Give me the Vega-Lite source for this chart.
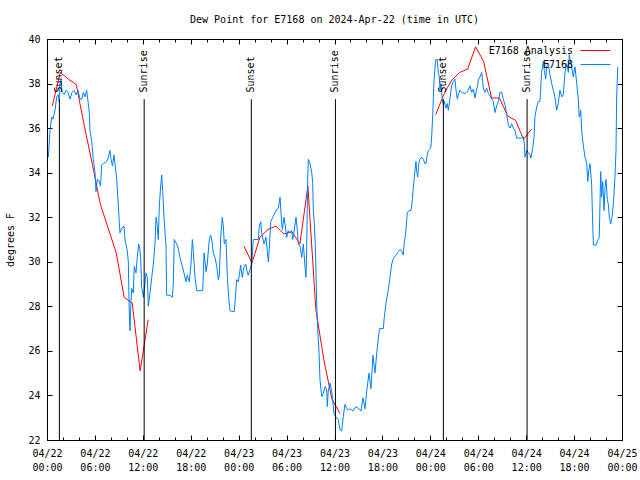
{
"$schema": "https://vega.github.io/schema/vega-lite/v6.json",
"width": 575,
"height": 401,
"autosize": {"type": "none"},
"padding": {"left": 47, "top": 39, "right": 18, "bottom": 40},
"background": "white",
"title": {"text": "Dew Point for E7168 on 2024-Apr-22 (time in UTC)", "font": "DejaVu Sans Mono", "fontSize": 10, "fontWeight": "normal", "color": "black", "offset": 9},
"config": {
  "view": {"stroke": "black", "strokeWidth": 1},
  "axis": {"labelFont": "DejaVu Sans Mono", "labelFontSize": 10, "labelColor": "black", "tickColor": "black", "tickWidth": 1, "titleFont": "DejaVu Sans Mono", "titleFontSize": 10, "titleFontWeight": "normal", "titleColor": "black", "domain": false, "grid": false},
  "legend": {"labelFont": "DejaVu Sans Mono", "labelFontSize": 10, "labelColor": "black", "padding": 0, "rowPadding": 3, "symbolType": "M-3,0L3,0", "symbolSize": 100, "symbolStrokeWidth": 1, "labelAlign": "right", "labelOffset": -28}
},
"datasets": {
  "sun": [
    {"t": "2024-04-22T01:33:00Z", "label": "Sunset"},
    {"t": "2024-04-22T12:10:00Z", "label": "Sunrise"},
    {"t": "2024-04-23T01:35:00Z", "label": "Sunset"},
    {"t": "2024-04-23T12:07:00Z", "label": "Sunrise"},
    {"t": "2024-04-24T01:38:00Z", "label": "Sunset"},
    {"t": "2024-04-24T12:07:00Z", "label": "Sunrise"}
  ],
  "ana": [
    {"t": "2024-04-22T00:40:00Z", "v": 37.0, "g": "a"},
    {"t": "2024-04-22T01:40:00Z", "v": 38.5, "g": "a"},
    {"t": "2024-04-22T02:40:00Z", "v": 38.2, "g": "a"},
    {"t": "2024-04-22T03:40:00Z", "v": 37.95, "g": "a"},
    {"t": "2024-04-22T04:40:00Z", "v": 36.1, "g": "a"},
    {"t": "2024-04-22T05:40:00Z", "v": 34.4, "g": "a"},
    {"t": "2024-04-22T06:40:00Z", "v": 32.6, "g": "a"},
    {"t": "2024-04-22T07:40:00Z", "v": 31.5, "g": "a"},
    {"t": "2024-04-22T08:40:00Z", "v": 30.4, "g": "a"},
    {"t": "2024-04-22T09:40:00Z", "v": 28.4, "g": "a"},
    {"t": "2024-04-22T10:40:00Z", "v": 28.15, "g": "a"},
    {"t": "2024-04-22T11:40:00Z", "v": 25.1, "g": "a"},
    {"t": "2024-04-22T12:40:00Z", "v": 27.4, "g": "a"},
    {"t": "2024-04-23T00:40:00Z", "v": 30.7, "g": "b"},
    {"t": "2024-04-23T01:40:00Z", "v": 29.95, "g": "b"},
    {"t": "2024-04-23T02:40:00Z", "v": 31.1, "g": "b"},
    {"t": "2024-04-23T03:40:00Z", "v": 31.45, "g": "b"},
    {"t": "2024-04-23T04:40:00Z", "v": 31.6, "g": "b"},
    {"t": "2024-04-23T05:40:00Z", "v": 31.25, "g": "b"},
    {"t": "2024-04-23T06:40:00Z", "v": 31.35, "g": "b"},
    {"t": "2024-04-23T07:40:00Z", "v": 30.8, "g": "b"},
    {"t": "2024-04-23T08:40:00Z", "v": 33.4, "g": "b"},
    {"t": "2024-04-23T09:40:00Z", "v": 27.85, "g": "b"},
    {"t": "2024-04-23T10:40:00Z", "v": 25.6, "g": "b"},
    {"t": "2024-04-23T11:40:00Z", "v": 23.85, "g": "b"},
    {"t": "2024-04-23T12:40:00Z", "v": 23.2, "g": "b"},
    {"t": "2024-04-24T00:40:00Z", "v": 36.6, "g": "c"},
    {"t": "2024-04-24T01:40:00Z", "v": 37.5, "g": "c"},
    {"t": "2024-04-24T02:40:00Z", "v": 38.15, "g": "c"},
    {"t": "2024-04-24T03:40:00Z", "v": 38.5, "g": "c"},
    {"t": "2024-04-24T04:40:00Z", "v": 38.65, "g": "c"},
    {"t": "2024-04-24T05:40:00Z", "v": 39.65, "g": "c"},
    {"t": "2024-04-24T06:40:00Z", "v": 39.0, "g": "c"},
    {"t": "2024-04-24T07:40:00Z", "v": 37.35, "g": "c"},
    {"t": "2024-04-24T08:40:00Z", "v": 37.35, "g": "c"},
    {"t": "2024-04-24T09:40:00Z", "v": 36.55, "g": "c"},
    {"t": "2024-04-24T10:40:00Z", "v": 36.35, "g": "c"},
    {"t": "2024-04-24T11:40:00Z", "v": 35.5, "g": "c"},
    {"t": "2024-04-24T12:40:00Z", "v": 35.95, "g": "c"}
  ],
  "obs": [
    {"t": "2024-04-22T00:10:00Z", "v": 34.7}, {"t": "2024-04-22T00:23:00Z", "v": 35.9}, {"t": "2024-04-22T00:35:00Z", "v": 36.5}, {"t": "2024-04-22T00:45:00Z", "v": 36.4},
    {"t": "2024-04-22T01:00:00Z", "v": 36.8}, {"t": "2024-04-22T01:13:00Z", "v": 37.4}, {"t": "2024-04-22T01:25:00Z", "v": 37.5}, {"t": "2024-04-22T01:32:00Z", "v": 37.2},
    {"t": "2024-04-22T01:38:00Z", "v": 38.0}, {"t": "2024-04-22T01:45:00Z", "v": 38.2}, {"t": "2024-04-22T01:53:00Z", "v": 37.6}, {"t": "2024-04-22T02:08:00Z", "v": 37.5},
    {"t": "2024-04-22T02:23:00Z", "v": 37.7}, {"t": "2024-04-22T02:38:00Z", "v": 37.6}, {"t": "2024-04-22T02:53:00Z", "v": 37.3}, {"t": "2024-04-22T03:08:00Z", "v": 37.6},
    {"t": "2024-04-22T03:23:00Z", "v": 37.7}, {"t": "2024-04-22T03:38:00Z", "v": 37.5}, {"t": "2024-04-22T03:53:00Z", "v": 37.7}, {"t": "2024-04-22T04:08:00Z", "v": 37.3},
    {"t": "2024-04-22T04:21:00Z", "v": 37.3}, {"t": "2024-04-22T04:33:00Z", "v": 37.6}, {"t": "2024-04-22T04:45:00Z", "v": 37.4}, {"t": "2024-04-22T04:58:00Z", "v": 37.7},
    {"t": "2024-04-22T05:08:00Z", "v": 37.2}, {"t": "2024-04-22T05:18:00Z", "v": 36.7}, {"t": "2024-04-22T05:23:00Z", "v": 35.9}, {"t": "2024-04-22T05:36:00Z", "v": 35.4},
    {"t": "2024-04-22T05:48:00Z", "v": 34.6}, {"t": "2024-04-22T06:01:00Z", "v": 34.0}, {"t": "2024-04-22T06:08:00Z", "v": 33.15}, {"t": "2024-04-22T06:18:00Z", "v": 33.7},
    {"t": "2024-04-22T06:33:00Z", "v": 33.6}, {"t": "2024-04-22T06:42:00Z", "v": 33.4}, {"t": "2024-04-22T06:51:00Z", "v": 34.35}, {"t": "2024-04-22T07:03:00Z", "v": 34.4},
    {"t": "2024-04-22T07:29:00Z", "v": 34.5}, {"t": "2024-04-22T07:41:00Z", "v": 34.7}, {"t": "2024-04-22T07:53:00Z", "v": 35.0}, {"t": "2024-04-22T08:01:00Z", "v": 34.6},
    {"t": "2024-04-22T08:12:00Z", "v": 34.3}, {"t": "2024-04-22T08:23:00Z", "v": 34.8}, {"t": "2024-04-22T08:31:00Z", "v": 34.4}, {"t": "2024-04-22T08:44:00Z", "v": 33.7},
    {"t": "2024-04-22T08:56:00Z", "v": 32.5}, {"t": "2024-04-22T09:03:00Z", "v": 31.8}, {"t": "2024-04-22T09:08:00Z", "v": 31.3}, {"t": "2024-04-22T09:21:00Z", "v": 31.5},
    {"t": "2024-04-22T09:38:00Z", "v": 31.6}, {"t": "2024-04-22T09:46:00Z", "v": 31.0}, {"t": "2024-04-22T10:03:00Z", "v": 30.5}, {"t": "2024-04-22T10:11:00Z", "v": 30.0},
    {"t": "2024-04-22T10:18:00Z", "v": 27.7}, {"t": "2024-04-22T10:24:00Z", "v": 26.9}, {"t": "2024-04-22T10:29:00Z", "v": 28.0}, {"t": "2024-04-22T10:36:00Z", "v": 28.8},
    {"t": "2024-04-22T10:48:00Z", "v": 28.6}, {"t": "2024-04-22T10:56:00Z", "v": 29.8}, {"t": "2024-04-22T11:09:00Z", "v": 29.5}, {"t": "2024-04-22T11:18:00Z", "v": 30.2},
    {"t": "2024-04-22T11:29:00Z", "v": 30.8}, {"t": "2024-04-22T11:39:00Z", "v": 30.5}, {"t": "2024-04-22T11:44:00Z", "v": 30.1}, {"t": "2024-04-22T11:51:00Z", "v": 28.9},
    {"t": "2024-04-22T12:04:00Z", "v": 28.4}, {"t": "2024-04-22T12:16:00Z", "v": 29.0}, {"t": "2024-04-22T12:24:00Z", "v": 29.5}, {"t": "2024-04-22T12:34:00Z", "v": 29.3},
    {"t": "2024-04-22T12:41:00Z", "v": 28.0}, {"t": "2024-04-22T12:54:00Z", "v": 28.6}, {"t": "2024-04-22T13:07:00Z", "v": 29.3}, {"t": "2024-04-22T13:19:00Z", "v": 29.9},
    {"t": "2024-04-22T13:31:00Z", "v": 30.8}, {"t": "2024-04-22T13:39:00Z", "v": 32.0}, {"t": "2024-04-22T13:44:00Z", "v": 31.9}, {"t": "2024-04-22T13:56:00Z", "v": 31.0},
    {"t": "2024-04-22T14:04:00Z", "v": 32.5}, {"t": "2024-04-22T14:14:00Z", "v": 33.4}, {"t": "2024-04-22T14:22:00Z", "v": 33.9}, {"t": "2024-04-22T14:29:00Z", "v": 33.2},
    {"t": "2024-04-22T14:39:00Z", "v": 32.0}, {"t": "2024-04-22T14:54:00Z", "v": 30.7}, {"t": "2024-04-22T14:59:00Z", "v": 28.5}, {"t": "2024-04-22T15:24:00Z", "v": 28.5},
    {"t": "2024-04-22T15:41:00Z", "v": 28.4}, {"t": "2024-04-22T15:49:00Z", "v": 29.0}, {"t": "2024-04-22T15:56:00Z", "v": 31.0}, {"t": "2024-04-22T16:14:00Z", "v": 30.8},
    {"t": "2024-04-22T16:26:00Z", "v": 30.6}, {"t": "2024-04-22T16:39:00Z", "v": 30.2}, {"t": "2024-04-22T16:52:00Z", "v": 29.9}, {"t": "2024-04-22T17:09:00Z", "v": 29.5},
    {"t": "2024-04-22T17:24:00Z", "v": 29.1}, {"t": "2024-04-22T17:34:00Z", "v": 29.4}, {"t": "2024-04-22T17:49:00Z", "v": 29.1}, {"t": "2024-04-22T18:02:00Z", "v": 29.9},
    {"t": "2024-04-22T18:12:00Z", "v": 31.0}, {"t": "2024-04-22T18:19:00Z", "v": 30.5}, {"t": "2024-04-22T18:32:00Z", "v": 29.3}, {"t": "2024-04-22T18:45:00Z", "v": 28.7},
    {"t": "2024-04-22T19:30:00Z", "v": 28.7}, {"t": "2024-04-22T19:40:00Z", "v": 30.4}, {"t": "2024-04-22T19:55:00Z", "v": 29.55}, {"t": "2024-04-22T20:04:00Z", "v": 29.9},
    {"t": "2024-04-22T20:19:00Z", "v": 31.0}, {"t": "2024-04-22T20:30:00Z", "v": 31.2}, {"t": "2024-04-22T20:40:00Z", "v": 30.9}, {"t": "2024-04-22T20:49:00Z", "v": 30.4},
    {"t": "2024-04-22T21:02:00Z", "v": 30.2}, {"t": "2024-04-22T21:15:00Z", "v": 29.8}, {"t": "2024-04-22T21:27:00Z", "v": 29.2}, {"t": "2024-04-22T21:35:00Z", "v": 29.4},
    {"t": "2024-04-22T21:45:00Z", "v": 31.1}, {"t": "2024-04-22T21:57:00Z", "v": 32.0}, {"t": "2024-04-22T22:05:00Z", "v": 31.6}, {"t": "2024-04-22T22:12:00Z", "v": 30.8},
    {"t": "2024-04-22T22:25:00Z", "v": 31.0}, {"t": "2024-04-22T22:35:00Z", "v": 29.3}, {"t": "2024-04-22T22:45:00Z", "v": 28.4}, {"t": "2024-04-22T22:55:00Z", "v": 27.8},
    {"t": "2024-04-22T23:08:00Z", "v": 27.77}, {"t": "2024-04-22T23:27:00Z", "v": 27.77}, {"t": "2024-04-22T23:38:00Z", "v": 28.6}, {"t": "2024-04-22T23:45:00Z", "v": 29.2},
    {"t": "2024-04-22T23:57:00Z", "v": 29.1},
    {"t": "2024-04-23T00:05:00Z", "v": 29.4}, {"t": "2024-04-23T00:15:00Z", "v": 29.85}, {"t": "2024-04-23T00:27:00Z", "v": 29.3}, {"t": "2024-04-23T00:35:00Z", "v": 29.6},
    {"t": "2024-04-23T00:42:00Z", "v": 29.8}, {"t": "2024-04-23T00:53:00Z", "v": 29.9}, {"t": "2024-04-23T01:05:00Z", "v": 29.5}, {"t": "2024-04-23T01:12:00Z", "v": 29.4},
    {"t": "2024-04-23T01:25:00Z", "v": 29.65}, {"t": "2024-04-23T01:38:00Z", "v": 29.9}, {"t": "2024-04-23T01:50:00Z", "v": 31.0}, {"t": "2024-04-23T02:28:00Z", "v": 31.0},
    {"t": "2024-04-23T02:35:00Z", "v": 31.6}, {"t": "2024-04-23T02:46:00Z", "v": 31.8}, {"t": "2024-04-23T02:53:00Z", "v": 31.3}, {"t": "2024-04-23T03:10:00Z", "v": 30.8},
    {"t": "2024-04-23T03:25:00Z", "v": 31.1}, {"t": "2024-04-23T03:35:00Z", "v": 30.45}, {"t": "2024-04-23T03:43:00Z", "v": 30.0}, {"t": "2024-04-23T03:50:00Z", "v": 30.6},
    {"t": "2024-04-23T04:01:00Z", "v": 31.8}, {"t": "2024-04-23T04:16:00Z", "v": 32.0}, {"t": "2024-04-23T04:33:00Z", "v": 32.2}, {"t": "2024-04-23T04:46:00Z", "v": 32.35},
    {"t": "2024-04-23T04:58:00Z", "v": 32.4}, {"t": "2024-04-23T05:11:00Z", "v": 32.9}, {"t": "2024-04-23T05:18:00Z", "v": 32.2}, {"t": "2024-04-23T05:28:00Z", "v": 31.45},
    {"t": "2024-04-23T05:41:00Z", "v": 32.0}, {"t": "2024-04-23T05:48:00Z", "v": 31.7}, {"t": "2024-04-23T06:01:00Z", "v": 31.1}, {"t": "2024-04-23T06:13:00Z", "v": 31.4},
    {"t": "2024-04-23T06:26:00Z", "v": 31.3}, {"t": "2024-04-23T06:38:00Z", "v": 31.4}, {"t": "2024-04-23T06:46:00Z", "v": 31.0}, {"t": "2024-04-23T06:56:00Z", "v": 31.35},
    {"t": "2024-04-23T07:11:00Z", "v": 32.0}, {"t": "2024-04-23T07:21:00Z", "v": 31.4}, {"t": "2024-04-23T07:28:00Z", "v": 30.8}, {"t": "2024-04-23T07:41:00Z", "v": 30.7},
    {"t": "2024-04-23T07:54:00Z", "v": 30.2}, {"t": "2024-04-23T08:06:00Z", "v": 30.8}, {"t": "2024-04-23T08:18:00Z", "v": 29.8}, {"t": "2024-04-23T08:26:00Z", "v": 29.3},
    {"t": "2024-04-23T08:31:00Z", "v": 30.7}, {"t": "2024-04-23T08:39:00Z", "v": 33.7}, {"t": "2024-04-23T08:43:00Z", "v": 34.6}, {"t": "2024-04-23T08:56:00Z", "v": 34.4},
    {"t": "2024-04-23T09:09:00Z", "v": 34.0}, {"t": "2024-04-23T09:16:00Z", "v": 33.55}, {"t": "2024-04-23T09:21:00Z", "v": 32.3}, {"t": "2024-04-23T09:28:00Z", "v": 31.75},
    {"t": "2024-04-23T09:36:00Z", "v": 30.7}, {"t": "2024-04-23T09:41:00Z", "v": 29.5}, {"t": "2024-04-23T09:46:00Z", "v": 28.2}, {"t": "2024-04-23T09:51:00Z", "v": 27.3},
    {"t": "2024-04-23T10:04:00Z", "v": 25.9}, {"t": "2024-04-23T10:11:00Z", "v": 24.7}, {"t": "2024-04-23T10:24:00Z", "v": 23.95}, {"t": "2024-04-23T10:36:00Z", "v": 24.1},
    {"t": "2024-04-23T10:49:00Z", "v": 24.4}, {"t": "2024-04-23T11:01:00Z", "v": 24.25}, {"t": "2024-04-23T11:06:00Z", "v": 23.5}, {"t": "2024-04-23T11:13:00Z", "v": 24.2},
    {"t": "2024-04-23T11:26:00Z", "v": 24.55}, {"t": "2024-04-23T11:39:00Z", "v": 24.2}, {"t": "2024-04-23T11:56:00Z", "v": 23.2}, {"t": "2024-04-23T12:09:00Z", "v": 23.05},
    {"t": "2024-04-23T12:29:00Z", "v": 22.9}, {"t": "2024-04-23T12:41:00Z", "v": 22.47}, {"t": "2024-04-23T12:54:00Z", "v": 22.4}, {"t": "2024-04-23T13:06:00Z", "v": 23.05},
    {"t": "2024-04-23T13:19:00Z", "v": 23.6}, {"t": "2024-04-23T13:32:00Z", "v": 23.4}, {"t": "2024-04-23T13:44:00Z", "v": 23.35}, {"t": "2024-04-23T13:56:00Z", "v": 23.4},
    {"t": "2024-04-23T14:19:00Z", "v": 23.3}, {"t": "2024-04-23T14:41:00Z", "v": 23.5}, {"t": "2024-04-23T15:04:00Z", "v": 23.4}, {"t": "2024-04-23T15:19:00Z", "v": 23.3},
    {"t": "2024-04-23T15:34:00Z", "v": 23.9}, {"t": "2024-04-23T15:49:00Z", "v": 23.4}, {"t": "2024-04-23T16:04:00Z", "v": 24.3}, {"t": "2024-04-23T16:19:00Z", "v": 25.0},
    {"t": "2024-04-23T16:34:00Z", "v": 24.3}, {"t": "2024-04-23T16:49:00Z", "v": 25.8}, {"t": "2024-04-23T17:04:00Z", "v": 25.0}, {"t": "2024-04-23T17:19:00Z", "v": 26.0},
    {"t": "2024-04-23T17:38:00Z", "v": 27.0}, {"t": "2024-04-23T18:07:00Z", "v": 27.0}, {"t": "2024-04-23T18:14:00Z", "v": 27.5}, {"t": "2024-04-23T18:27:00Z", "v": 28.15},
    {"t": "2024-04-23T18:44:00Z", "v": 28.75}, {"t": "2024-04-23T18:57:00Z", "v": 29.3}, {"t": "2024-04-23T19:10:00Z", "v": 29.9}, {"t": "2024-04-23T19:22:00Z", "v": 30.15},
    {"t": "2024-04-23T19:42:00Z", "v": 30.3}, {"t": "2024-04-23T19:59:00Z", "v": 30.45}, {"t": "2024-04-23T20:12:00Z", "v": 30.55}, {"t": "2024-04-23T20:25:00Z", "v": 30.5},
    {"t": "2024-04-23T20:37:00Z", "v": 30.3}, {"t": "2024-04-23T20:44:00Z", "v": 30.85}, {"t": "2024-04-23T20:55:00Z", "v": 31.3}, {"t": "2024-04-23T21:07:00Z", "v": 32.2},
    {"t": "2024-04-23T21:20:00Z", "v": 32.3}, {"t": "2024-04-23T21:35:00Z", "v": 32.3}, {"t": "2024-04-23T21:45:00Z", "v": 32.8}, {"t": "2024-04-23T21:52:00Z", "v": 33.3},
    {"t": "2024-04-23T22:05:00Z", "v": 34.1}, {"t": "2024-04-23T22:12:00Z", "v": 34.5}, {"t": "2024-04-23T22:18:00Z", "v": 34.05}, {"t": "2024-04-23T22:25:00Z", "v": 33.8},
    {"t": "2024-04-23T22:33:00Z", "v": 34.4}, {"t": "2024-04-23T22:42:00Z", "v": 34.6}, {"t": "2024-04-23T22:55:00Z", "v": 34.7}, {"t": "2024-04-23T23:07:00Z", "v": 34.6},
    {"t": "2024-04-23T23:20:00Z", "v": 34.4}, {"t": "2024-04-23T23:27:00Z", "v": 34.4}, {"t": "2024-04-23T23:37:00Z", "v": 34.8}, {"t": "2024-04-23T23:45:00Z", "v": 35.0},
    {"t": "2024-04-24T00:03:00Z", "v": 35.1}, {"t": "2024-04-24T00:10:00Z", "v": 35.6}, {"t": "2024-04-24T00:18:00Z", "v": 36.6}, {"t": "2024-04-24T00:28:00Z", "v": 38.17},
    {"t": "2024-04-24T00:40:00Z", "v": 39.07}, {"t": "2024-04-24T00:52:00Z", "v": 39.07}, {"t": "2024-04-24T01:00:00Z", "v": 38.5}, {"t": "2024-04-24T01:07:00Z", "v": 38.3},
    {"t": "2024-04-24T01:13:00Z", "v": 37.7}, {"t": "2024-04-24T01:20:00Z", "v": 38.0}, {"t": "2024-04-24T01:30:00Z", "v": 37.3}, {"t": "2024-04-24T01:37:00Z", "v": 37.05},
    {"t": "2024-04-24T01:45:00Z", "v": 37.2}, {"t": "2024-04-24T01:58:00Z", "v": 36.9}, {"t": "2024-04-24T02:07:00Z", "v": 37.1}, {"t": "2024-04-24T02:15:00Z", "v": 36.8},
    {"t": "2024-04-24T02:28:00Z", "v": 37.35}, {"t": "2024-04-24T02:40:00Z", "v": 37.9}, {"t": "2024-04-24T02:53:00Z", "v": 38.1}, {"t": "2024-04-24T03:05:00Z", "v": 38.2},
    {"t": "2024-04-24T03:13:00Z", "v": 37.7}, {"t": "2024-04-24T03:23:00Z", "v": 37.3}, {"t": "2024-04-24T03:33:00Z", "v": 37.55}, {"t": "2024-04-24T03:43:00Z", "v": 37.7},
    {"t": "2024-04-24T03:56:00Z", "v": 37.6}, {"t": "2024-04-24T04:20:00Z", "v": 37.55}, {"t": "2024-04-24T04:33:00Z", "v": 37.6}, {"t": "2024-04-24T04:45:00Z", "v": 37.7},
    {"t": "2024-04-24T04:58:00Z", "v": 37.9}, {"t": "2024-04-24T05:11:00Z", "v": 37.6}, {"t": "2024-04-24T05:23:00Z", "v": 37.75}, {"t": "2024-04-24T05:36:00Z", "v": 37.35},
    {"t": "2024-04-24T05:48:00Z", "v": 37.75}, {"t": "2024-04-24T05:56:00Z", "v": 37.9}, {"t": "2024-04-24T06:00:00Z", "v": 38.17}, {"t": "2024-04-24T06:13:00Z", "v": 38.3},
    {"t": "2024-04-24T06:26:00Z", "v": 38.5}, {"t": "2024-04-24T06:33:00Z", "v": 38.1}, {"t": "2024-04-24T06:38:00Z", "v": 37.8}, {"t": "2024-04-24T06:51:00Z", "v": 37.6},
    {"t": "2024-04-24T07:03:00Z", "v": 37.8}, {"t": "2024-04-24T07:16:00Z", "v": 37.55}, {"t": "2024-04-24T07:28:00Z", "v": 37.45}, {"t": "2024-04-24T07:41:00Z", "v": 37.3},
    {"t": "2024-04-24T07:53:00Z", "v": 37.2}, {"t": "2024-04-24T08:06:00Z", "v": 36.7}, {"t": "2024-04-24T08:18:00Z", "v": 37.0}, {"t": "2024-04-24T08:31:00Z", "v": 37.2},
    {"t": "2024-04-24T08:43:00Z", "v": 37.6}, {"t": "2024-04-24T08:56:00Z", "v": 37.6}, {"t": "2024-04-24T09:08:00Z", "v": 37.3}, {"t": "2024-04-24T09:21:00Z", "v": 37.05},
    {"t": "2024-04-24T09:34:00Z", "v": 36.6}, {"t": "2024-04-24T09:46:00Z", "v": 36.15}, {"t": "2024-04-24T09:59:00Z", "v": 36.0}, {"t": "2024-04-24T10:11:00Z", "v": 36.2},
    {"t": "2024-04-24T10:24:00Z", "v": 36.0}, {"t": "2024-04-24T10:36:00Z", "v": 35.9}, {"t": "2024-04-24T10:49:00Z", "v": 35.55}, {"t": "2024-04-24T11:26:00Z", "v": 35.55},
    {"t": "2024-04-24T11:39:00Z", "v": 35.6}, {"t": "2024-04-24T11:46:00Z", "v": 35.3}, {"t": "2024-04-24T11:51:00Z", "v": 34.7}, {"t": "2024-04-24T12:04:00Z", "v": 35.0},
    {"t": "2024-04-24T12:16:00Z", "v": 34.9}, {"t": "2024-04-24T12:29:00Z", "v": 34.8}, {"t": "2024-04-24T12:36:00Z", "v": 34.66}, {"t": "2024-04-24T12:49:00Z", "v": 35.1},
    {"t": "2024-04-24T12:59:00Z", "v": 35.6}, {"t": "2024-04-24T13:06:00Z", "v": 36.5}, {"t": "2024-04-24T13:19:00Z", "v": 36.95}, {"t": "2024-04-24T13:31:00Z", "v": 37.2},
    {"t": "2024-04-24T13:44:00Z", "v": 37.2}, {"t": "2024-04-24T13:56:00Z", "v": 38.5}, {"t": "2024-04-24T14:09:00Z", "v": 39.0}, {"t": "2024-04-24T14:16:00Z", "v": 38.6},
    {"t": "2024-04-24T14:27:00Z", "v": 38.2}, {"t": "2024-04-24T14:34:00Z", "v": 38.75}, {"t": "2024-04-24T14:46:00Z", "v": 38.9}, {"t": "2024-04-24T14:59:00Z", "v": 38.4},
    {"t": "2024-04-24T15:12:00Z", "v": 38.0}, {"t": "2024-04-24T15:24:00Z", "v": 37.7}, {"t": "2024-04-24T15:37:00Z", "v": 37.35}, {"t": "2024-04-24T15:49:00Z", "v": 36.8},
    {"t": "2024-04-24T16:01:00Z", "v": 37.1}, {"t": "2024-04-24T16:14:00Z", "v": 37.7}, {"t": "2024-04-24T16:27:00Z", "v": 37.4}, {"t": "2024-04-24T16:39:00Z", "v": 37.5},
    {"t": "2024-04-24T16:52:00Z", "v": 38.5}, {"t": "2024-04-24T17:04:00Z", "v": 38.9}, {"t": "2024-04-24T17:17:00Z", "v": 38.5}, {"t": "2024-04-24T17:24:00Z", "v": 39.3},
    {"t": "2024-04-24T17:35:00Z", "v": 38.9}, {"t": "2024-04-24T17:42:00Z", "v": 38.75}, {"t": "2024-04-24T17:54:00Z", "v": 38.3}, {"t": "2024-04-24T18:07:00Z", "v": 38.75},
    {"t": "2024-04-24T18:20:00Z", "v": 38.0}, {"t": "2024-04-24T18:32:00Z", "v": 37.3}, {"t": "2024-04-24T18:39:00Z", "v": 36.5}, {"t": "2024-04-24T18:50:00Z", "v": 36.8},
    {"t": "2024-04-24T18:58:00Z", "v": 35.8}, {"t": "2024-04-24T19:10:00Z", "v": 35.2}, {"t": "2024-04-24T19:22:00Z", "v": 34.7}, {"t": "2024-04-24T19:35:00Z", "v": 34.4},
    {"t": "2024-04-24T19:43:00Z", "v": 33.6}, {"t": "2024-04-24T19:50:00Z", "v": 34.1}, {"t": "2024-04-24T20:00:00Z", "v": 34.4}, {"t": "2024-04-24T20:12:00Z", "v": 33.45},
    {"t": "2024-04-24T20:20:00Z", "v": 31.7}, {"t": "2024-04-24T20:25:00Z", "v": 30.75}, {"t": "2024-04-24T20:45:00Z", "v": 30.75}, {"t": "2024-04-24T20:54:00Z", "v": 30.9},
    {"t": "2024-04-24T21:09:00Z", "v": 31.1}, {"t": "2024-04-24T21:20:00Z", "v": 34.05}, {"t": "2024-04-24T21:27:00Z", "v": 32.9}, {"t": "2024-04-24T21:35:00Z", "v": 33.6},
    {"t": "2024-04-24T21:45:00Z", "v": 32.3}, {"t": "2024-04-24T21:52:00Z", "v": 33.3}, {"t": "2024-04-24T22:00:00Z", "v": 33.7}, {"t": "2024-04-24T22:10:00Z", "v": 32.8},
    {"t": "2024-04-24T22:17:00Z", "v": 32.6}, {"t": "2024-04-24T22:25:00Z", "v": 32.0}, {"t": "2024-04-24T22:35:00Z", "v": 31.7}, {"t": "2024-04-24T22:45:00Z", "v": 32.0},
    {"t": "2024-04-24T22:55:00Z", "v": 32.6}, {"t": "2024-04-24T23:07:00Z", "v": 33.8}, {"t": "2024-04-24T23:15:00Z", "v": 35.0}, {"t": "2024-04-24T23:20:00Z", "v": 37.4},
    {"t": "2024-04-24T23:28:00Z", "v": 38.75}
  ]
},
"layer": [
  {
    "data": {"name": "ana"},
    "mark": {"type": "line", "strokeWidth": 1},
    "encoding": {
      "x": {"field": "t", "type": "temporal", "scale": {"type": "utc", "domain": [{"year": 2024, "month": 4, "date": 22, "utc": true}, {"year": 2024, "month": 4, "date": 25, "utc": true}], "nice": false},
        "axis": {"orient": "bottom", "title": null, "values": [1713744000000, 1713765600000, 1713787200000, 1713808800000, 1713830400000, 1713852000000, 1713873600000, 1713895200000, 1713916800000, 1713938400000, 1713960000000, 1713981600000, 1714003200000],
          "tickSize": -5, "labelExpr": "[utcFormat(datum.value, '%m/%d'), utcFormat(datum.value, '%H:%M')]", "labelOverlap": false, "labelFlush": false, "labelPadding": 13, "labelLineHeight": 14, "labelBaseline": "top"}},
      "y": {"field": "v", "type": "quantitative", "scale": {"domain": [22, 40], "nice": false, "zero": false},
        "axis": {"orient": "left", "title": "degrees F", "values": [22, 24, 26, 28, 30, 32, 34, 36, 38, 40], "tickSize": -5, "labelPadding": 12, "titlePadding": 12}},
      "detail": {"field": "g", "type": "nominal"},
      "color": {"datum": "E7168 Analysis", "type": "nominal", "scale": {"domain": ["E7168 Analysis", "E7168"], "range": ["#ff0000", "#0080ff"]}, "legend": {"orient": "none", "legendX": 543, "legendY": 6, "title": null}}
    }
  },
  {
    "data": {"name": "obs"},
    "mark": {"type": "line", "strokeWidth": 1},
    "encoding": {
      "x": {"field": "t", "type": "temporal",
        "axis": {"orient": "top", "title": null, "labels": false, "values": [1713744000000, 1713765600000, 1713787200000, 1713808800000, 1713830400000, 1713852000000, 1713873600000, 1713895200000, 1713916800000, 1713938400000, 1713960000000, 1713981600000, 1714003200000], "tickSize": -5}},
      "y": {"field": "v", "type": "quantitative",
        "axis": {"orient": "right", "title": null, "labels": false, "values": [22, 24, 26, 28, 30, 32, 34, 36, 38, 40], "tickSize": -5}},
      "color": {"datum": "E7168", "type": "nominal"}
    }
  },
  {
    "data": {"name": "sun"},
    "mark": {"type": "rule", "color": "black", "strokeWidth": 1},
    "encoding": {
      "x": {"field": "t", "type": "temporal",
        "axis": {"orient": "bottom", "title": null, "labels": false, "values": [1713744000000, 1713751200000, 1713758400000, 1713765600000, 1713772800000, 1713780000000, 1713787200000, 1713794400000, 1713801600000, 1713808800000, 1713816000000, 1713823200000, 1713830400000, 1713837600000, 1713844800000, 1713852000000, 1713859200000, 1713866400000, 1713873600000, 1713880800000, 1713888000000, 1713895200000, 1713902400000, 1713909600000, 1713916800000, 1713924000000, 1713931200000, 1713938400000, 1713945600000, 1713952800000, 1713960000000, 1713967200000, 1713974400000, 1713981600000, 1713988800000, 1713996000000, 1714003200000], "tickSize": -3}},
      "y": {"datum": 37.3, "type": "quantitative", "axis": null},
      "y2": {"datum": 22}
    }
  },
  {
    "data": {"name": "sun"},
    "mark": {"type": "text", "angle": 270, "align": "left", "baseline": "middle", "font": "DejaVu Sans Mono", "fontSize": 10, "color": "black"},
    "encoding": {
      "x": {"field": "t", "type": "temporal",
        "axis": {"orient": "top", "title": null, "labels": false, "values": [1713744000000, 1713751200000, 1713758400000, 1713765600000, 1713772800000, 1713780000000, 1713787200000, 1713794400000, 1713801600000, 1713808800000, 1713816000000, 1713823200000, 1713830400000, 1713837600000, 1713844800000, 1713852000000, 1713859200000, 1713866400000, 1713873600000, 1713880800000, 1713888000000, 1713895200000, 1713902400000, 1713909600000, 1713916800000, 1713924000000, 1713931200000, 1713938400000, 1713945600000, 1713952800000, 1713960000000, 1713967200000, 1713974400000, 1713981600000, 1713988800000, 1713996000000, 1714003200000], "tickSize": -3}},
      "y": {"datum": 37.6, "type": "quantitative", "axis": null},
      "text": {"field": "label"}
    }
  }
],
"resolve": {"axis": {"x": "independent", "y": "independent"}}
}
